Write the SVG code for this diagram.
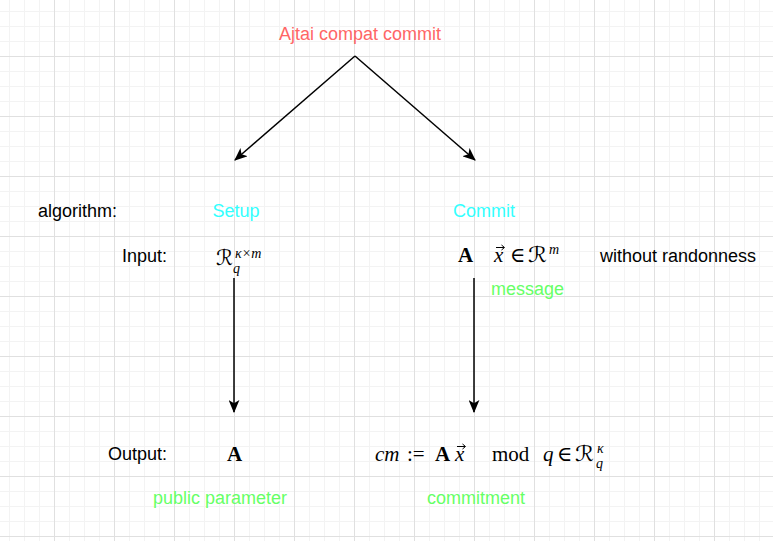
<svg xmlns="http://www.w3.org/2000/svg" width="773" height="541" viewBox="0 0 773 541">
<style>
.lbl{font-family:"Liberation Sans",Arial,sans-serif;font-size:18px}
.blk{fill:#000}
.red{fill:#FF6666}
.cyan{fill:#33FFFF}
.grn{fill:#66FF66}
.mi{font-family:"Liberation Serif","DejaVu Serif",serif;font-style:italic;font-size:21px;fill:#000}
.mr{font-family:"Liberation Serif","DejaVu Serif",serif;font-size:21px;fill:#000}
.mb{font-family:"Liberation Serif","DejaVu Serif",serif;font-weight:bold;font-size:21px;fill:#000}
.cal{font-family:"DejaVu Serif","DejaVu Sans",serif;font-size:21px;fill:#000}
.sm{font-size:14px}
.vec{stroke:#000;stroke-width:1;fill:none}
.edge{stroke:#000;stroke-width:1.5;fill:none}
</style>
<defs>
<pattern id="grid" x="-6" y="-4" width="60" height="60" patternUnits="userSpaceOnUse">
<path d="M15.5 0V60M30.5 0V60M45.5 0V60M0 15.5H60M0 30.5H60M0 45.5H60" stroke="#f3f3f3" stroke-width="1"/>
<path d="M0.5 0V60M0 0.5H60" stroke="#e0e0e0" stroke-width="1"/>
</pattern>
<marker id="arr" viewBox="0 0 12 10" refX="11" refY="5" markerWidth="13" markerHeight="11" markerUnits="userSpaceOnUse" orient="auto">
<path d="M0,0 L12,5 L0,10 L3,5 Z" fill="#000"/>
</marker>
</defs>
<rect width="773" height="541" fill="#fff"/>
<rect width="773" height="541" fill="url(#grid)"/>
<g id="connectors">
<path class="edge" d="M355 56 L235 160" marker-end="url(#arr)"/>
<path class="edge" d="M355 56 L475 160" marker-end="url(#arr)"/>
<path class="edge" d="M234 278 V412" marker-end="url(#arr)"/>
<path class="edge" d="M474 278 V412" marker-end="url(#arr)"/>
</g>
<g id="title"><text class="lbl red" x="360" y="40" text-anchor="middle">Ajtai compat commit</text></g>
<g id="algorithm"><text class="lbl blk" x="38" y="217">algorithm:</text></g>
<g id="setup"><text class="lbl cyan" x="236" y="217" text-anchor="middle">Setup</text></g>
<g id="commit"><text class="lbl cyan" x="484" y="217" text-anchor="middle">Commit</text></g>
<g id="input-label"><text class="lbl blk" x="167" y="262" text-anchor="end">Input:</text></g>
<g id="output-label"><text class="lbl blk" x="167" y="460" text-anchor="end">Output:</text></g>
<g id="randomness"><text class="lbl blk" x="600" y="262">without randonness</text></g>
<g id="message"><text class="lbl grn" x="491" y="295">message</text></g>
<g id="public-parameter"><text class="lbl grn" x="220" y="504" text-anchor="middle">public parameter</text></g>
<g id="commitment"><text class="lbl grn" x="476" y="504" text-anchor="middle">commitment</text></g>
<g id="setup-input">
<text class="cal" x="216" y="265" textLength="17" lengthAdjust="spacingAndGlyphs">ℛ</text>
<text class="mi sm" x="233" y="273">q</text>
<text class="mi sm" x="235" y="258">κ×m</text>
</g>
<g id="commit-input">
<text class="mb" x="458" y="262">A</text>
<text class="mi" x="494" y="262">x</text>
<path class="vec" d="M496 247.5H504M501.5 245L504.5 247.5L501.5 250"/>
<text class="mr" x="510" y="262">∈</text>
<text class="cal" x="528" y="262" textLength="19" lengthAdjust="spacingAndGlyphs">ℛ</text>
<text class="mi sm" x="549" y="254">m</text>
</g>
<g id="setup-output"><text class="mb" x="227" y="461">A</text></g>
<g id="commit-output">
<text class="mi" x="375" y="461">cm</text>
<text class="mr" x="407" y="461">:=</text>
<text class="mb" x="435" y="461">A</text>
<text class="mi" x="455" y="461">x</text>
<path class="vec" d="M457 446.5H465M462.5 444L465.5 446.5L462.5 449"/>
<text class="mr" x="492" y="461">mod</text>
<text class="mi" x="543" y="461">q</text>
<text class="mr" x="557" y="461">∈</text>
<text class="cal" x="575" y="461" textLength="19" lengthAdjust="spacingAndGlyphs">ℛ</text>
<text class="mi sm" x="597" y="453">κ</text>
<text class="mi sm" x="596" y="468">q</text>
</g>
</svg>
